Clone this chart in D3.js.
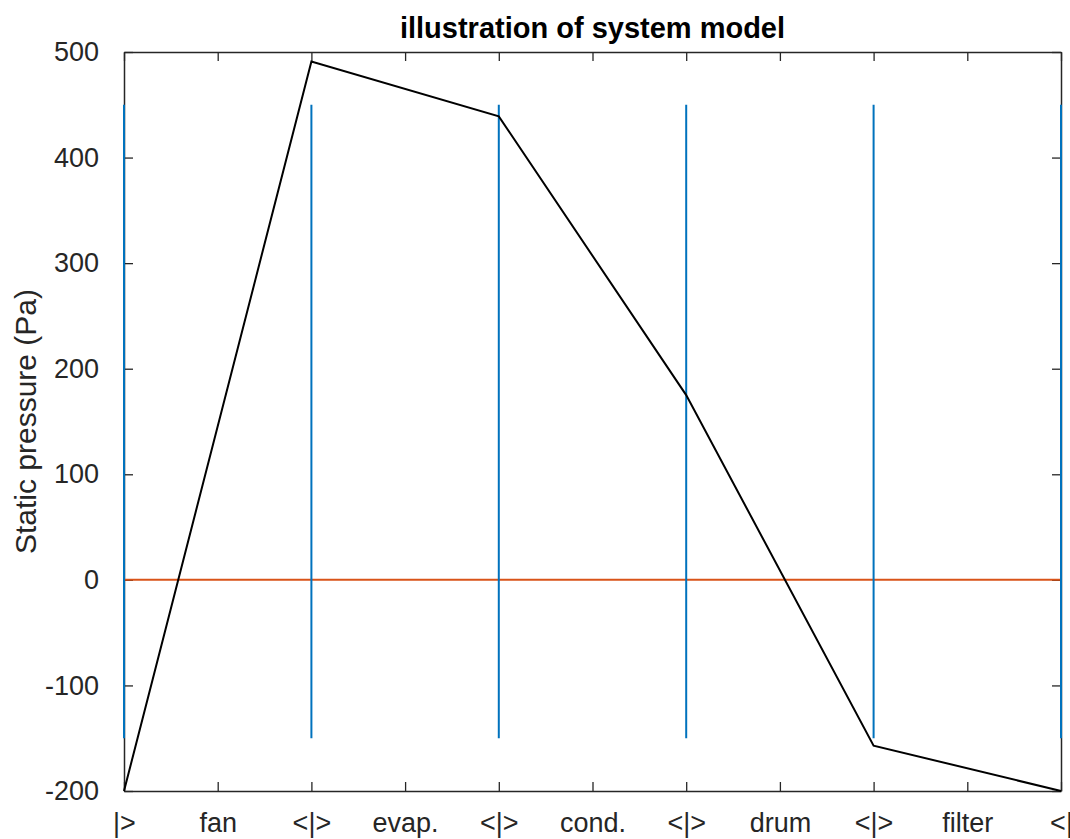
<!DOCTYPE html>
<meta charset="utf-8">
<body style="margin:0;background:#fff">
<script src="https://cdn.jsdelivr.net/npm/d3@7"></script>
<svg></svg>
<script>
    // component boundaries and static pressure at each boundary
    var stations = [0, 2, 4, 6, 8, 10];
    var pressure = [-200, 491, 439, 175, -157, -200];
    var markerRange = [-150, 450];   // vertical boundary markers
    var zeroLevel = [0, 0];          // ambient line
    var xTickLabels = ["|>", "fan", "<|>", "evap.", "<|>", "cond.", "<|>", "drum", "<|>", "filter", "<|"];
    var yTicks = [-200, -100, 0, 100, 200, 300, 400, 500];

    var width = 1070, height = 839;
    var plotL = 124, plotR = 1061, plotT = 52, plotB = 791;
    var font = "'Liberation Sans', Arial, Helvetica, sans-serif";
    var ink = "#262626";

    var svg = d3.select("svg")
        .attr("width", width)
        .attr("height", height)
        .style("font-family", font);

    var x = d3.scaleLinear().domain([0, 10]).range([plotL, plotR]);
    var y = d3.scaleLinear().domain([-200, 500]).range([plotB, plotT]);

    // axes (MATLAB style box with inward ticks on all sides)
    var tickLen = 9;
    var xAxisB = d3.axisBottom(x).tickValues(d3.range(0, 11)).tickSizeInner(-tickLen).tickSizeOuter(0)
        .tickFormat(function(d, i) { return xTickLabels[i]; }).tickPadding(tickLen + 18);
    var xAxisT = d3.axisTop(x).tickValues(d3.range(0, 11)).tickSizeInner(-tickLen).tickSizeOuter(0).tickFormat("");
    var yAxisL = d3.axisLeft(y).tickValues(yTicks).tickSizeInner(-tickLen).tickSizeOuter(0).tickPadding(tickLen + 16)
        .tickFormat(function(d) { return String(d); });  // plain hyphen minus like MATLAB
    var yAxisR = d3.axisRight(y).tickValues(yTicks).tickSizeInner(-tickLen).tickSizeOuter(0).tickFormat("");

    function styleAxis(g) {
        g.select(".domain").attr("stroke", ink).attr("stroke-width", 1.5);
        g.selectAll(".tick line").attr("stroke", ink).attr("stroke-width", 1.3);
        g.selectAll(".tick text").attr("fill", ink).style("font-size", "27px").style("font-family", font);
    }

    svg.append("g").attr("transform", "translate(0," + plotB + ")").call(xAxisB).call(styleAxis)
        .selectAll(".tick text").attr("dy", "0.5em");
    svg.append("g").attr("transform", "translate(0," + plotT + ")").call(xAxisT).call(styleAxis);
    svg.append("g").attr("transform", "translate(" + plotL + ",0)").call(yAxisL).call(styleAxis);
    svg.append("g").attr("transform", "translate(" + plotR + ",0)").call(yAxisR).call(styleAxis);

    // ambient (zero) line
    svg.append("line")
        .attr("x1", x(stations[0])).attr("x2", x(stations[stations.length - 1]))
        .attr("y1", y(zeroLevel[0])).attr("y2", y(zeroLevel[1]))
        .attr("stroke", "#D95319").attr("stroke-width", 2);

    // boundary markers
    svg.selectAll(".marker")
        .data(stations)
        .enter().append("line")
        .attr("class", "marker")
        .attr("x1", function(d) { return x(d); }).attr("x2", function(d) { return x(d); })
        .attr("y1", y(markerRange[0])).attr("y2", y(markerRange[1]))
        .attr("stroke", "#0072BD").attr("stroke-width", 2);

    // static pressure profile
    var line = d3.line()
        .x(function(d, i) { return x(stations[i]); })
        .y(function(d) { return y(d); });
    svg.append("path")
        .datum(pressure)
        .attr("d", line)
        .attr("fill", "none")
        .attr("stroke", "#000")
        .attr("stroke-width", 2);

    // title and y label
    svg.append("text")
        .attr("x", (plotL + plotR) / 2).attr("y", 38)
        .attr("text-anchor", "middle")
        .attr("fill", "#000")
        .style("font-size", "29px").style("font-weight", "bold")
        .text("illustration of system model");

    svg.append("text")
        .attr("transform", "translate(36," + (plotT + plotB) / 2 + ") rotate(-90)")
        .attr("text-anchor", "middle")
        .attr("fill", ink)
        .style("font-size", "30px")
        .text("Static pressure (Pa)");
</script>
